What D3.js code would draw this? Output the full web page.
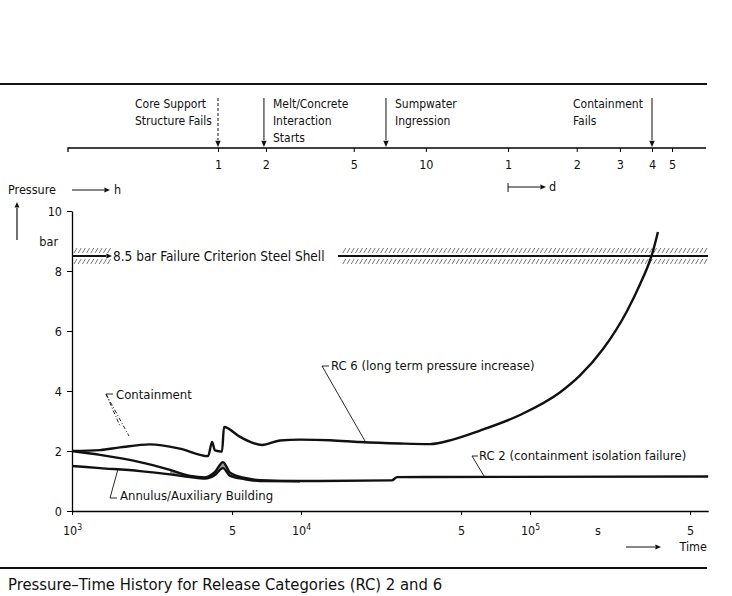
<!DOCTYPE html>
<html>
<head>
<meta charset="utf-8">
<script src="https://cdnjs.cloudflare.com/ajax/libs/d3/7.8.5/d3.min.js"></script>
<style>
  body { margin: 0; background: #fff; }
  svg { display: block; }
  text { font-family: "Liberation Sans Narrow", "DejaVu Sans Condensed", "Roboto Condensed", sans-serif; fill: #111; }
</style>
</head>
<body>
<div id="chart"></div>
<script>
// times in s, pressures in bar
const rc6Times  = [1000, 1325, 1620, 2190, 2960, 3930, 4090, 4210, 4520, 4610, 5420, 6760, 8090, 9900, 13400, 18100, 27100, 36600, 46000, 60500, 90400, 135000, 165000, 208000, 265000, 302000, 334000, 344000, 362000];
const rc6Values = [2.0, 2.03, 2.12, 2.22, 2.08, 1.83, 2.3, 2.02, 1.98, 2.8, 2.47, 2.2, 2.35, 2.38, 2.36, 2.3, 2.25, 2.23, 2.38, 2.68, 3.2, 3.95, 4.51, 5.39, 6.66, 7.55, 8.35, 8.65, 9.3];

const lowerTimes    = [1000, 1325, 1980, 2680, 3280, 3810, 4210, 4565, 4900, 5690, 6620, 9900, 24900, 26300, 600000];
const rc2Values     = [2.0, 1.87, 1.63, 1.37, 1.17, 1.12, 1.3, 1.63, 1.28, 1.1, 1.03, 1.0, 1.02, 1.13, 1.15];
const annulusValues = [1.5, 1.43, 1.33, 1.22, 1.13, 1.08, 1.2, 1.43, 1.17, 1.06, 1.0, 0.99];

const pressureTicks = [0, 2, 4, 6, 8, 10];
const timeTicks = [1e3, 5e3, 1e4, 5e4, 1e5, 5e5];
const timeTickBase = ['10', '5', '10', '5', '10', '5'];
const timeTickExp  = ['3', '', '4', '', '5', ''];

// upper scale: hours, then days
const topTickLabels = ['1', '2', '5', '10', '1', '2', '3', '4', '5'];
const topTickTimes  = [4340, 7030, 17000, 35100, 80200, 160000, 247000, 341000, 417000];

const eventLabels = [['Core Support', 'Structure Fails'], ['Melt/Concrete', 'Interaction', 'Starts'], ['Sumpwater', 'Ingression'], ['Containment', 'Fails']];
const eventTimes  = [4340, 6890, 23500, 341000];

const failurePressure = 8.5;

const W = 732, H = 596;
const decade = 229;
const x = d3.scaleLog().domain([1e3, 6e5]).range([72, 72 + decade * Math.log10(600)]);
const y = d3.scaleLinear().domain([0, 10]).range([511, 211]);

const svg = d3.select('#chart').append('svg').attr('width', W).attr('height', H);

// rules
svg.append('line').attr('x1', 0).attr('x2', 707).attr('y1', 84).attr('y2', 84).attr('stroke', '#111').attr('stroke-width', 2);
svg.append('line').attr('x1', 0).attr('x2', 707).attr('y1', 568).attr('y2', 568).attr('stroke', '#111').attr('stroke-width', 1.8);

// caption
svg.append('text').attr('x', 8).attr('y', 590).style('font-size', '16.5px').text('Pressure\u2013Time History for Release Categories (RC) 2 and 6');

function arrowHead(g, px, py, dir, size) {
  // dir: 'r', 'd', 'u'
  const s = size || 5;
  let p;
  if (dir === 'r') p = [[px, py], [px - s * 1.4, py - s * 0.6], [px - s * 1.4, py + s * 0.6]];
  else if (dir === 'd') p = [[px, py], [px - s * 0.6, py - s * 1.4], [px + s * 0.6, py - s * 1.4]];
  else p = [[px, py], [px - s * 0.6, py + s * 1.4], [px + s * 0.6, py + s * 1.4]];
  g.append('path').attr('d', d3.line()(p) + 'Z').attr('fill', '#111');
}

// ---- top axis (h / d)
const topAxis = svg.append('g').attr('transform', 'translate(0,148)')
  .call(d3.axisBottom(x).tickValues(topTickTimes).tickFormat((d, i) => topTickLabels[i]).tickSize(4).tickSizeOuter(0).tickPadding(8));
topAxis.select('.domain').attr('d', 'M68,4V0H706').attr('stroke-width', 1.3);
topAxis.selectAll('text').style('font-size', '12.5px');

// events
eventTimes.forEach((t, i) => {
  const ex = x(t);
  const g = svg.append('g');
  g.append('line').attr('x1', ex).attr('x2', ex).attr('y1', 98).attr('y2', 140)
    .attr('stroke', '#111').attr('stroke-width', 1)
    .attr('stroke-dasharray', i === 0 ? '3,2' : null);
  arrowHead(g, ex, 147, 'd', 4.5);
  const right = (i === 0 || i === 3);
  const tx = right ? ex - 10 : ex + 9;
  eventLabels[i].forEach((s, j) => {
    g.append('text').attr('x', right ? (i === 0 ? 135 : 573) : tx).attr('y', 108 + j * 17)
      .style('font-size', '12px').text(s);
  });
});

// "-> h" and "|-> d"
svg.append('text').attr('x', 8).attr('y', 194).style('font-size', '12.5px').text('Pressure');
svg.append('line').attr('x1', 72).attr('x2', 104).attr('y1', 190).attr('y2', 190).attr('stroke', '#111').attr('stroke-width', 1);
arrowHead(svg, 110, 190, 'r', 4);
svg.append('text').attr('x', 114).attr('y', 194).style('font-size', '12.5px').text('h');

svg.append('line').attr('x1', x(80200)).attr('x2', x(80200)).attr('y1', 183).attr('y2', 192).attr('stroke', '#111');
svg.append('line').attr('x1', x(80200)).attr('x2', 540).attr('y1', 187).attr('y2', 187).attr('stroke', '#111');
arrowHead(svg, 546, 187, 'r', 4);
svg.append('text').attr('x', 549).attr('y', 191).style('font-size', '12.5px').text('d');

// up arrow + unit
svg.append('line').attr('x1', 17).attr('x2', 17).attr('y1', 240).attr('y2', 208).attr('stroke', '#111').attr('stroke-width', 1.2);
arrowHead(svg, 17, 202, 'u', 4);
svg.append('text').attr('x', 58).attr('y', 246).attr('text-anchor', 'end').style('font-size', '12.5px').text('bar');

// ---- left axis
const yAxis = svg.append('g').attr('transform', 'translate(72,0)')
  .call(d3.axisLeft(y).tickValues(pressureTicks).tickSize(5).tickSizeOuter(0).tickPadding(5));
yAxis.selectAll('text').style('font-size', '12.5px');
yAxis.select('.domain').attr('stroke-width', 1.3);

// ---- bottom axis
const xAxis = svg.append('g').attr('transform', 'translate(0,511)')
  .call(d3.axisBottom(x).tickValues(timeTicks).tickFormat('').tickSize(4).tickSizeOuter(0));
xAxis.select('.domain').attr('stroke-width', 1.3);
const tl = xAxis.selectAll('.tick').append('text').attr('y', 24).attr('fill', '#111').style('font-size', '12.5px').attr('text-anchor', 'middle');
tl.append('tspan').text((d, i) => timeTickBase[i]);
tl.append('tspan').attr('dy', -5).style('font-size', '8.5px').text((d, i) => timeTickExp[i]);
svg.append('text').attr('x', 598).attr('y', 535).attr('text-anchor', 'middle').style('font-size', '12.5px').text('s');
svg.append('line').attr('x1', 626).attr('x2', 655).attr('y1', 547).attr('y2', 547).attr('stroke', '#111');
arrowHead(svg, 661, 547, 'r', 4);
svg.append('text').attr('x', 707).attr('y', 551).attr('text-anchor', 'end').style('font-size', '12.5px').text('Time');

// ---- failure criterion line with hatching
const yF = y(failurePressure);
const hatch = svg.append('g').attr('stroke', '#555').attr('stroke-width', 0.8);
d3.range(74, 706, 4.2).filter(v => v < 108 || v > 340).forEach(v => {
  hatch.append('line').attr('x1', v).attr('x2', v + 3).attr('y1', yF - 3).attr('y2', yF - 8);
  hatch.append('line').attr('x1', v).attr('x2', v + 3).attr('y1', yF + 8).attr('y2', yF + 3);
});
svg.append('line').attr('x1', 72).attr('x2', 106).attr('y1', yF).attr('y2', yF).attr('stroke', '#111').attr('stroke-width', 2);
arrowHead(svg, 112, yF, 'r', 4);
svg.append('line').attr('x1', 338).attr('x2', 708).attr('y1', yF).attr('y2', yF).attr('stroke', '#111').attr('stroke-width', 2);
svg.append('text').attr('x', 113).attr('y', yF + 5).style('font-size', '13.5px').text(failurePressure + ' bar Failure Criterion Steel Shell');

// ---- curves
const line = d3.line().x(d => x(d[0])).y(d => y(d[1])).curve(d3.curveMonotoneX);
const rc6 = rc6Times.map((t, i) => [t, rc6Values[i]]);
const rc2 = lowerTimes.map((t, i) => [t, rc2Values[i]]);
const ann = annulusValues.map((v, i) => [lowerTimes[i], v]);

// grey band between RC 2 and annulus near the spike
const band = lowerTimes.slice(3, 11).map((t, i) => ({ t: t, hi: rc2Values[i + 3], lo: annulusValues[i + 3] }));
svg.append('path')
  .attr('d', d3.area().x(d => x(d.t)).y0(d => y(d.lo)).y1(d => y(d.hi)).curve(d3.curveMonotoneX)(band))
  .attr('fill', '#999');

[ann, rc2, rc6].forEach(d => {
  svg.append('path').attr('d', line(d)).attr('fill', 'none').attr('stroke', '#111').attr('stroke-width', 2.4)
    .attr('stroke-linejoin', 'round');
});

// ---- annotations
const ann1 = svg.append('g').attr('stroke', '#111').attr('fill', 'none').attr('stroke-width', 0.9);
// Containment
ann1.append('path').attr('d', 'M113,394H106');
ann1.append('path').attr('d', 'M106,394L129,436').attr('stroke-dasharray', '4,2,1,2');
ann1.append('path').attr('d', 'M106,394L120,426').attr('stroke-dasharray', '4,2,1,2');
svg.append('text').attr('x', 116).attr('y', 399).style('font-size', '13px').text('Containment');
// Annulus
ann1.append('path').attr('d', 'M117,498H110L118,469');
svg.append('text').attr('x', 120).attr('y', 500).style('font-size', '13px').text('Annulus/Auxiliary Building');
// RC 6
ann1.append('path').attr('d', 'M329,366H322L365,441');
svg.append('text').attr('x', 331).attr('y', 370).style('font-size', '13px').text('RC 6 (long term pressure increase)');
// RC 2
ann1.append('path').attr('d', 'M478,456H472L484,476');
svg.append('text').attr('x', 479).attr('y', 460).style('font-size', '13px').text('RC 2 (containment isolation failure)');
</script>
</body>
</html>
